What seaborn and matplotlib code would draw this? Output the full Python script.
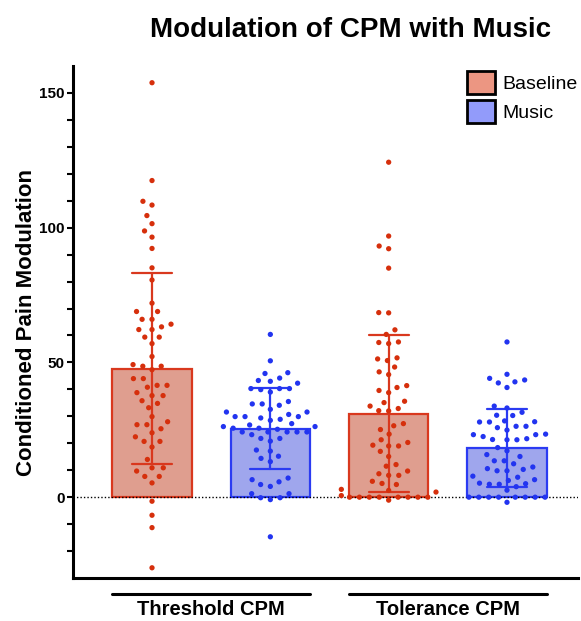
import numpy as np
import pandas as pd
import seaborn as sns
import matplotlib.pyplot as plt
from matplotlib.patches import Patch
from matplotlib.ticker import MultipleLocator, FixedLocator

# values (one dot per subject)
threshold_baseline = [153.8, 117.5, 109.8, 108.4, 104.5, 101.5, 98.8, 96.5, 92.3, 85.1,
                      80.6, 72.0, 68.9, 68.9, 66.0, 66.0, 64.2, 63.2, 62.2, 62.2,
                      59.4, 59.4, 57.0, 52.2, 49.2, 48.6, 48.6, 47.3, 44.0, 44.0,
                      41.5, 41.5, 40.8, 38.8, 37.7, 37.7, 35.8, 34.8, 33.2, 29.9,
                      28.0, 26.9, 26.9, 25.4, 23.9, 22.4, 20.7, 20.7, 18.6, 14.0,
                      10.9, 10.9, 9.7, 7.7, 7.7, 5.3, -1.5, -6.7, -11.3, -26.2]
threshold_music = [60.4, 50.6, 46.2, 45.9, 44.2, 43.3, 43.0, 42.3, 40.3, 40.3,
                   40.3, 39.9, 39.0, 35.5, 34.6, 34.6, 34.1, 32.6, 31.6, 31.6,
                   30.7, 29.9, 29.9, 29.9, 29.4, 28.9, 28.5, 27.3, 26.8, 26.2,
                   26.2, 25.6, 25.6, 25.2, 24.2, 24.2, 24.2, 24.2, 24.2, 23.2,
                   21.8, 21.8, 20.8, 17.5, 17.1, 15.2, 14.4, 13.2, 7.1, 6.5,
                   5.7, 4.7, 4.0, 1.3, 1.3, -0.2, -0.2, -0.9, -14.7]
tolerance_baseline = [124.3, 96.9, 93.2, 92.2, 85.0, 68.5, 68.4, 62.1, 60.4, 57.6,
                      57.4, 57.0, 51.7, 51.3, 50.7, 48.3, 46.5, 45.5, 41.4, 40.7,
                      39.6, 38.8, 35.6, 35.1, 33.8, 32.9, 32.1, 32.0, 27.3, 26.5,
                      25.1, 23.4, 21.3, 20.3, 19.3, 19.0, 19.0, 17.0, 15.1, 12.1,
                      11.5, 9.7, 8.7, 8.1, 8.1, 5.9, 5.1, 4.7, 2.9, 2.5,
                      1.9, 0.6, 0.0, 0.0, 0.0, 0.0, 0.0, 0.0, 0.0, 0.0, -1.1]
tolerance_music = [57.6, 45.6, 44.1, 43.5, 42.8, 42.4, 40.7, 33.8, 33.1, 31.5,
                   30.4, 30.3, 28.3, 28.0, 27.9, 27.9, 26.3, 26.3, 25.8, 24.9,
                   23.4, 23.2, 23.2, 22.5, 21.7, 21.4, 21.3, 21.3, 18.4, 17.2,
                   15.8, 15.1, 13.5, 13.5, 12.4, 11.2, 10.6, 10.3, 9.8, 9.8,
                   7.8, 7.4, 6.5, 6.2, 5.2, 5.0, 4.8, 4.8, 3.9, 2.6,
                   0.0, 0.0, 0.0, 0.0, 0.0, 0.0, 0.0, 0.0, -1.9]

groups = ["Threshold CPM", "Tolerance CPM"]
conditions = ["Baseline", "Music"]

bar_colors = {"Baseline": "#EC9682", "Music": "#929BFA"}
edge_colors = {"Baseline": "#D9381E", "Music": "#2B3BF2"}
dot_colors = {"Baseline": "#D62F0C", "Music": "#2234F0"}


def build_frame():
    rows = []
    sets = [(groups[0], "Baseline", threshold_baseline),
            (groups[0], "Music", threshold_music),
            (groups[1], "Baseline", tolerance_baseline),
            (groups[1], "Music", tolerance_music)]
    for g, c, vals in sets:
        for v in vals:
            rows.append({"group": g, "condition": c, "value": v, "slot": g + " " + c})
    return pd.DataFrame(rows)


df = build_frame()
order = [g + " " + c for g in groups for c in conditions]

sns.set_style("ticks")
plt.rcParams["font.family"] = ["Liberation Sans", "DejaVu Sans"]
plt.rcParams.update({"text.color": "black", "axes.labelcolor": "black",
                     "axes.edgecolor": "black", "xtick.color": "black",
                     "ytick.color": "black"})

fig, ax = plt.subplots(figsize=(5.81, 6.21), dpi=100)
fig.subplots_adjust(left=0.1256, right=0.9948, bottom=0.0692, top=0.8937)

sns.barplot(data=df, x="slot", y="value", hue="condition", order=order,
            hue_order=conditions, palette=bar_colors, errorbar="sd",
            capsize=0.34, width=0.668, linewidth=1.6,
            err_kws={"linewidth": 1.6}, legend=False, ax=ax)

# bar outlines and error bars take the darker colour of their condition
for bar in ax.patches:
    cx = bar.get_x() + bar.get_width() / 2
    bar.set_edgecolor(edge_colors[conditions[int(round(cx)) % 2]])
for line in ax.lines:
    cx = np.nanmean(line.get_xdata())
    line.set_color(edge_colors[conditions[int(round(cx)) % 2]])
    line.set_zorder(2.5)

sns.swarmplot(data=df, x="slot", y="value", hue="condition", order=order,
              hue_order=conditions, palette=dot_colors, size=3.8,
              linewidth=3.0, edgecolor="none", legend=False, ax=ax, zorder=3)

ax.axhline(0, color="black", ls=(0, (1, 1.5)), lw=1, zorder=2)

ax.set_xlim(-0.668, 3.60)
ax.set_ylim(-30, 160)
ax.yaxis.set_major_locator(MultipleLocator(50))
ax.yaxis.set_minor_locator(FixedLocator([v for v in range(-20, 151, 10) if v % 50]))
ax.set_xticks([])
ax.set_xlabel("")
ax.set_ylabel("Conditioned Pain Modulation", fontsize=16, fontweight="bold")
ax.yaxis.set_label_coords(-0.072, 0.5)
sns.despine(ax=ax)
for s in ["left", "bottom"]:
    ax.spines[s].set_linewidth(2.2)
ax.tick_params(axis="y", which="both", width=1.5, length=4, labelsize=11, pad=2)
for lbl in ax.get_yticklabels():
    lbl.set_fontweight("bold")

# group labels under the axis
trans = ax.get_xaxis_transform()
for i, g in enumerate(groups):
    lo, hi = 2 * i - 0.334, 2 * i + 1.334
    ax.plot([lo, hi], [-0.031, -0.031], transform=trans, color="black",
            lw=2.2, clip_on=False)
    ax.text(2 * i + 0.5, -0.073, g, transform=trans, ha="center", va="baseline",
            fontsize=14.5, fontweight="bold")

handles = [Patch(facecolor=bar_colors[c], edgecolor="black", linewidth=2) for c in conditions]
ax.legend(handles, conditions, loc="upper right", bbox_to_anchor=(1.0, 0.99),
          frameon=False, fontsize=14, handlelength=1.43, handleheight=1.43,
          handletextpad=0.4, labelspacing=0.31, borderaxespad=0, borderpad=0)

fig.text(0.604, 0.9404, "Modulation of CPM with Music", fontsize=20,
         fontweight="bold", ha="center", va="baseline")

fig.savefig("out.png", dpi=100)
